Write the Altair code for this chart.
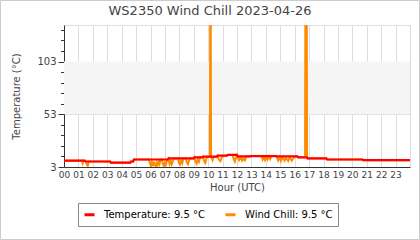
import altair as alt
import pandas as pd

TITLE = "WS2350 Wind Chill 2023-04-26"
TEMP_LABEL = "Temperature: 9.5 °C"
CHILL_LABEL = "Wind Chill: 9.5 °C"
hour_labels = ["00", "01", "02", "03", "04", "05", "06", "07", "08", "09", "10", "11",
               "12", "13", "14", "15", "16", "17", "18", "19", "20", "21", "22", "23"]
y_label_values = [3, 53, 103]
y_minor_values = [3, 13, 23, 33, 43, 53, 63, 73, 83, 93, 103, 113, 123, 133]

temp_hours = [0, 1.45, 1.5, 3.2, 3.25, 4.6, 4.65, 4.8, 4.85, 7.2, 7.25, 9.0, 9.05, 9.6, 9.65,
              10.6, 10.65, 11.3, 11.35, 12.0, 12.05, 12.9, 12.95, 14.7, 14.75, 16.2, 16.25,
              16.85, 16.9, 18.2, 18.25, 20.7, 20.75, 24.0]
temp_values = [9.0, 9.0, 8.2, 8.2, 7.1, 7.1, 8.2, 8.2, 10.1, 10.1, 11.1, 11.1, 12.2, 12.2, 12.8,
               12.8, 13.7, 13.7, 14.4, 14.4, 13.0, 13.0, 13.4, 13.4, 13.0, 13.0, 12.2,
               12.2, 11.1, 11.1, 10.1, 10.1, 9.5, 9.5]

chill_hours = [0, 1.25, 1.3, 1.36, 1.45, 1.5, 1.6, 1.65, 1.72, 3.2, 3.25, 4.6, 4.65, 4.8, 4.85,
               5.9, 5.97, 6.03, 6.1, 6.17, 6.24, 6.3, 6.37, 6.44, 6.5, 6.57, 6.63, 6.7, 6.8,
               6.86, 6.93, 7.0, 7.07, 7.14, 7.2, 7.25, 7.32, 7.4, 7.47, 7.55, 7.62, 7.9, 7.97,
               8.04, 8.12, 8.2, 8.28, 8.45, 8.52, 8.6, 8.68, 8.76, 9.0, 9.05, 9.12, 9.2, 9.28,
               9.36, 9.44, 9.6, 9.65, 9.72, 9.8, 9.88, 9.96, 10.12, 10.14, 10.18, 10.2, 10.3,
               10.38, 10.6, 10.65, 10.75, 10.85, 10.95, 11.05, 11.3, 11.35, 11.7, 11.78, 11.85,
               11.92, 12.0, 12.05, 12.15, 12.25, 12.35, 12.45, 12.55, 12.65, 12.9, 12.95, 13.7,
               13.78, 13.86, 13.94, 14.02, 14.12, 14.22, 14.3, 14.4, 14.7, 14.75, 14.85, 14.95,
               15.05, 15.15, 15.3, 15.4, 15.55, 15.65, 15.8, 15.9, 16.0, 16.2, 16.25, 16.72,
               16.74, 16.84, 16.86, 16.9, 18.2, 18.25, 20.7, 20.75, 24.0]
chill_values = [9.0, 9.0, 6.5, 9.0, 9.0, 8.2, 5.0, 4.2, 8.2, 8.2, 7.1, 7.1, 8.2, 8.2, 10.1,
                10.1, 6.0, 3.8, 7.5, 4.0, 8.0, 5.0, 3.5, 7.0, 5.0, 8.5, 6.0, 10.1, 10.1,
                5.5, 3.8, 7.0, 5.0, 9.0, 10.1, 11.1, 6.0, 9.0, 5.5, 8.5, 11.1, 11.1, 7.0,
                5.5, 9.0, 6.5, 11.1, 11.1, 7.5, 5.8, 9.5, 11.1, 11.1, 12.2, 8.0, 6.2, 10.5,
                8.0, 12.2, 12.2, 12.8, 8.5, 6.8, 11.0, 12.8, 12.8, 140.0, 140.0, 12.8, 9.5,
                12.8, 12.8, 13.7, 10.0, 8.5, 12.0, 13.7, 13.7, 14.4, 14.4, 10.0, 8.0,
                11.5, 14.4, 13.0, 9.5, 12.0, 9.0, 11.0, 9.2, 13.0, 13.0, 13.4, 13.4,
                10.0, 12.0, 9.6, 12.5, 10.0, 13.0, 10.5, 13.4, 13.4, 13.0, 9.0, 12.0,
                8.8, 12.5, 9.0, 11.5, 8.7, 12.0, 9.0, 11.0, 13.0, 13.0, 12.2, 12.2,
                140.0, 140.0, 12.2, 11.1, 11.1, 10.1, 10.1, 9.5, 9.5]

band_low = [53]
band_high = [103]

temp_df = pd.DataFrame({"hour": temp_hours, "value": temp_values, "series": TEMP_LABEL})
chill_df = pd.DataFrame({"hour": chill_hours, "value": chill_values, "series": CHILL_LABEL})
band_df = pd.DataFrame({"lo": band_low, "hi": band_high})

FONT = "DejaVu Sans"
W, H = 346, 142
PAD_L, PAD_T = 64, 25

label_expr = "[" + ",".join("'%s'" % s for s in hour_labels) + "][datum.value]"
major_test = " || ".join("datum.value == %d" % v for v in y_label_values)
grid_test = " || ".join("datum.value == %d" % v for v in y_label_values[1:])

y_scale = alt.Scale(domain=[3, 137.6], nice=False, zero=False)

x_enc = alt.X(
    "hour:Q",
    scale=alt.Scale(domain=[0, 24], nice=False, zero=False),
    axis=alt.Axis(
        values=list(range(24)), labelExpr=label_expr, title="Hour (UTC)",
        ticks=False, grid=True, gridColor="#dddddd", gridWidth=1,
        domainColor="#333333", labelFont=FONT, labelFontSize=9, labelColor="#444444",
        labelPadding=3, labelFlush=False, labelOverlap=False,
        titleFont=FONT, titleFontSize=10, titleFontWeight="normal", titleColor="#444444",
        titlePadding=3,
    ),
)
y_axis = alt.Axis(
    values=y_minor_values,
    labelExpr="(" + major_test + ") ? datum.label : ''",
    title="Temperature (°C)",
    tickSize={"condition": {"test": major_test, "value": 6}, "value": 3.5},
    tickColor="#333333", domainColor="#333333",
    grid=True, gridColor="#dddddd",
    gridOpacity={"condition": {"test": grid_test, "value": 1}, "value": 0},
    labelFont=FONT, labelFontSize=10, labelColor="#444444", labelPadding=2,
    labelOverlap=False,
    titleFont=FONT, titleFontSize=10, titleFontWeight="normal", titleColor="#444444",
    titlePadding=15,
)
y_enc = alt.Y("value:Q", scale=y_scale, axis=y_axis)

color_scale = alt.Scale(domain=[TEMP_LABEL, CHILL_LABEL], range=["#ff0000", "#ff8c00"])
legend = alt.Legend(
    title=None, orient="none", legendX=14, legendY=178, direction="horizontal",
    columns=2, symbolType="stroke", symbolStrokeWidth=3, symbolSize=100,
    labelFont=FONT, labelFontSize=10, labelColor="#000000",
    strokeColor="#888888", padding=5, columnPadding=14, labelOffset=8,
    fillColor="#ffffff",
)

band = alt.Chart(band_df).mark_rect(color="#f5f5f5").encode(
    y=alt.Y("lo:Q", scale=y_scale, axis=y_axis),
    y2="hi:Q",
)

chill_line = alt.Chart(chill_df).mark_line(strokeWidth=2, clip=True).encode(
    x=x_enc, y=y_enc,
    color=alt.Color("series:N", scale=color_scale, legend=legend),
)
temp_line = alt.Chart(temp_df).mark_line(strokeWidth=2.2, clip=True).encode(
    x=x_enc, y=y_enc,
    color=alt.Color("series:N", scale=color_scale, legend=legend),
)

border = alt.Chart(band_df).mark_rect(fill=None, stroke="#cccccc", strokeWidth=1).encode(
    x=alt.value(-PAD_L + 0.5), x2=alt.value(420 - PAD_L - 0.5),
    y=alt.value(-PAD_T + 0.5), y2=alt.value(240 - PAD_T - 0.5),
)

chart = alt.layer(band, chill_line, temp_line, border).properties(
    width=W, height=H,
    autosize=alt.AutoSizeParams(type="none"),
    padding={"left": PAD_L, "top": PAD_T, "right": 420 - PAD_L - W, "bottom": 240 - PAD_T - H},
    title=alt.TitleParams(TITLE, font=FONT, fontSize=13, fontWeight="normal", color="#444444",
                          anchor="middle", dx=-27, offset=-18),
).configure_view(stroke=None).configure(background="#ffffff")

chart.save("out.html", embed_options={"renderer": "svg", "actions": False})
